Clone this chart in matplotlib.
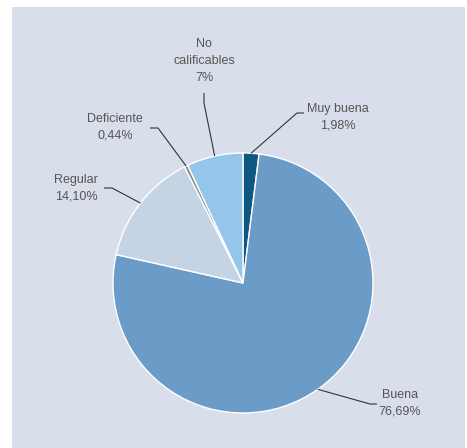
import numpy as np
import matplotlib
matplotlib.use('Agg')
import matplotlib.pyplot as plt
from matplotlib.patches import Rectangle

# data
categories = ['Muy buena', 'Buena', 'Regular', 'Deficiente', 'No\ncalificables']
values = [1.98, 76.69, 14.10, 0.44, 7.0]
pct_labels = ['1,98%', '76,69%', '14,10%', '0,44%', '7%']
colors = ['#0f5680', '#6b9bc7', '#c4d4e5', '#8a8a8a', '#93c6ea']

W, H = 467, 448
plt.rcParams['font.family'] = ['Liberation Sans', 'DejaVu Sans']

fig = plt.figure(figsize=(W / 100, H / 100), dpi=100)
ax = fig.add_axes([0, 0, 1, 1])

# pixel coords (y from top) -> axes data coords
def py(y):
    return H - y

# background panel
ax.add_patch(Rectangle((12, 0), 453, py(7), facecolor='#d9dfea', edgecolor='none', zorder=0))

cx, cy, r = 243, 283, 130
wedges, _ = ax.pie(values, colors=colors, startangle=90, counterclock=False,
                   center=(cx, py(cy)), radius=r,
                   wedgeprops=dict(edgecolor='white', linewidth=1.0))
for w in wedges:
    w.set_zorder(2)

# label positions: text centre, elbow and end of leader line (pixels)
text_pos = [(338, 117), (400, 403), (76, 188), (115, 127), (204, 61)]
elbows = [(297, 113), (370, 404), (112, 188), (158, 128), (204, 103)]
ends = [(304, 113), (377, 404), (104, 188), (150, 128), (204, 93)]

for i, w in enumerate(wedges):
    ang = np.deg2rad((w.theta1 + w.theta2) / 2)
    sx = cx + r * np.cos(ang)
    sy = py(cy) + r * np.sin(ang)
    ex, ey = elbows[i]
    tx, ty = ends[i]
    ax.plot([sx, ex, tx], [sy, py(ey), py(ty)], color='#333333', lw=0.8, zorder=3,
            solid_capstyle='butt')
    ax.text(text_pos[i][0], py(text_pos[i][1]), categories[i] + '\n' + pct_labels[i],
            ha='center', va='center', fontsize=9, color='#555555', linespacing=1.55,
            zorder=4)

ax.set_xlim(0, W)
ax.set_ylim(0, H)
ax.set_aspect('auto')
ax.axis('off')

fig.savefig('out.png', dpi=100, facecolor='white')
